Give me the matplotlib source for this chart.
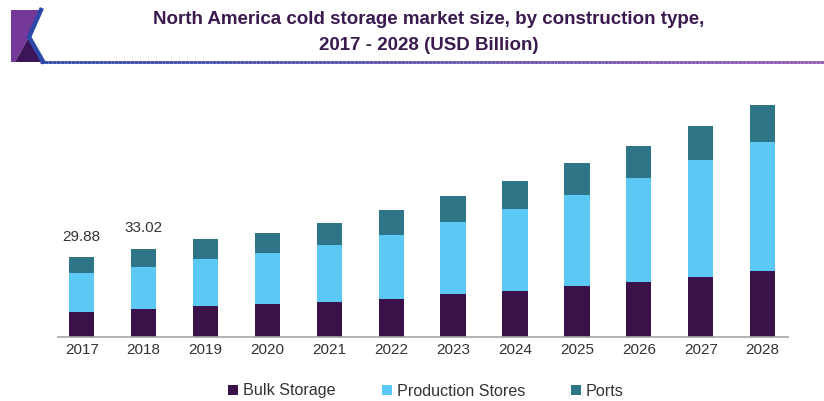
import matplotlib
matplotlib.use("Agg")
import matplotlib.pyplot as plt
import numpy as np
from matplotlib.patches import Polygon, Patch
from matplotlib.lines import Line2D
from matplotlib.collections import LineCollection

years = ["2017", "2018", "2019", "2020", "2021", "2022", "2023", "2024", "2025", "2026", "2027", "2028"]
bulk_storage = [9.36, 10.49, 11.6, 12.5, 13.0, 14.3, 16.1, 17.1, 19.2, 20.7, 22.5, 24.8]
production_stores = [14.6, 15.73, 17.5, 19.0, 21.3, 23.9, 27.0, 31.0, 34.1, 38.8, 43.9, 48.4]
ports = [5.92, 6.80, 7.5, 7.5, 8.4, 9.4, 9.7, 10.5, 11.7, 12.0, 12.5, 13.7]
value_labels = {0: "29.88", 1: "33.02"}
series_names = ["Bulk Storage", "Production Stores", "Ports"]
colors = ["#3a1149", "#5cc9f5", "#2e7587"]

plt.rcParams['font.family'] = ['Liberation Sans', 'DejaVu Sans']

W, H = 824, 401
fig = plt.figure(figsize=(W / 100, H / 100), dpi=100)

def fx(px):
    return px / W

def fy(py):
    return 1 - py / H

ax_left, ax_right, ax_bottom, ax_top = 58, 788, 337, 95
ax = fig.add_axes([fx(ax_left), fy(ax_bottom), fx(ax_right - ax_left), (ax_bottom - ax_top) / H])

x = np.arange(len(years))
bw = 0.41
b1 = np.array(bulk_storage)
b2 = np.array(production_stores)
b3 = np.array(ports)
ax.bar(x, b1, bw, color=colors[0], linewidth=0)
ax.bar(x, b2, bw, bottom=b1, color=colors[1], linewidth=0)
ax.bar(x, b3, bw, bottom=b1 + b2, color=colors[2], linewidth=0)

totals = b1 + b2 + b3
for i, lab in value_labels.items():
    ax.annotate(lab, (x[i], totals[i]), xytext=(0, 12.0), textcoords="offset points",
                ha="center", va="baseline", fontsize=11, color="#333333")

spacing = 61.9
xmin = -(81.7 - ax_left) / spacing
xmax = xmin + (ax_right - ax_left) / spacing
ax.set_xlim(xmin, xmax)
ax.set_ylim(0, (ax_bottom - ax_top) / 2.67)
ax.set_xticks(x)
ax.set_xticklabels(years, fontsize=11, color="#333333")
ax.tick_params(axis="x", length=0, pad=4.2)
ax.set_yticks([])
for s in ["top", "left", "right"]:
    ax.spines[s].set_visible(False)
ax.spines["bottom"].set_color("#a6a6a6")
ax.spines["bottom"].set_linewidth(1.2)

# Title
title_color = "#3b1a4f"
fig.text(fx(429), fy(20), "North America cold storage market size, by construction type,",
         ha="center", va="center", fontsize=13.5, fontweight="bold", color=title_color)
fig.text(fx(429), fy(45), "2017 - 2028 (USD Billion)",
         ha="center", va="center", fontsize=13.5, fontweight="bold", color=title_color)

# Logo
def P(pts):
    return [(fx(a), fy(b)) for a, b in pts]

fig.add_artist(Polygon(P([(11, 10), (39, 10), (29, 37), (15, 62), (11, 62)]),
                       closed=True, facecolor="#74389a", edgecolor="none", transform=fig.transFigure))
fig.add_artist(Polygon(P([(15, 62), (29, 37), (41, 62)]),
                       closed=True, facecolor="#3b1656", edgecolor="none", transform=fig.transFigure))
fig.add_artist(Line2D([fx(41), fx(29), fx(43)], [fy(10), fy(37), fy(61.5)],
                      color="#2c48a8", linewidth=3.2, transform=fig.transFigure,
                      solid_joinstyle="miter"))

# Gradient rule under title
n = 200
xs = np.linspace(40, 824, n + 1)
segs = [[(fx(xs[i]), fy(61.5)), (fx(xs[i + 1]), fy(61.5))] for i in range(n)]
c0 = np.array(matplotlib.colors.to_rgb("#2c46a6"))
c1 = np.array(matplotlib.colors.to_rgb("#8e55ad"))
cols = [tuple(c0 + (c1 - c0) * t) for t in np.linspace(0, 1, n)]
lc = LineCollection(segs, colors=cols, linewidths=2.0, transform=fig.transFigure)
fig.add_artist(lc)

# Legend
handles = [Patch(facecolor=c, edgecolor="none") for c in colors]
fig.legend(handles, series_names, loc="center", bbox_to_anchor=(fx(426), fy(391)),
           ncol=3, frameon=False, fontsize=11.6, handlelength=0.62, handleheight=0.62,
           handletextpad=0.3, columnspacing=2.85, labelcolor="#333333")

fig.savefig("out.png", dpi=100, facecolor="white")
